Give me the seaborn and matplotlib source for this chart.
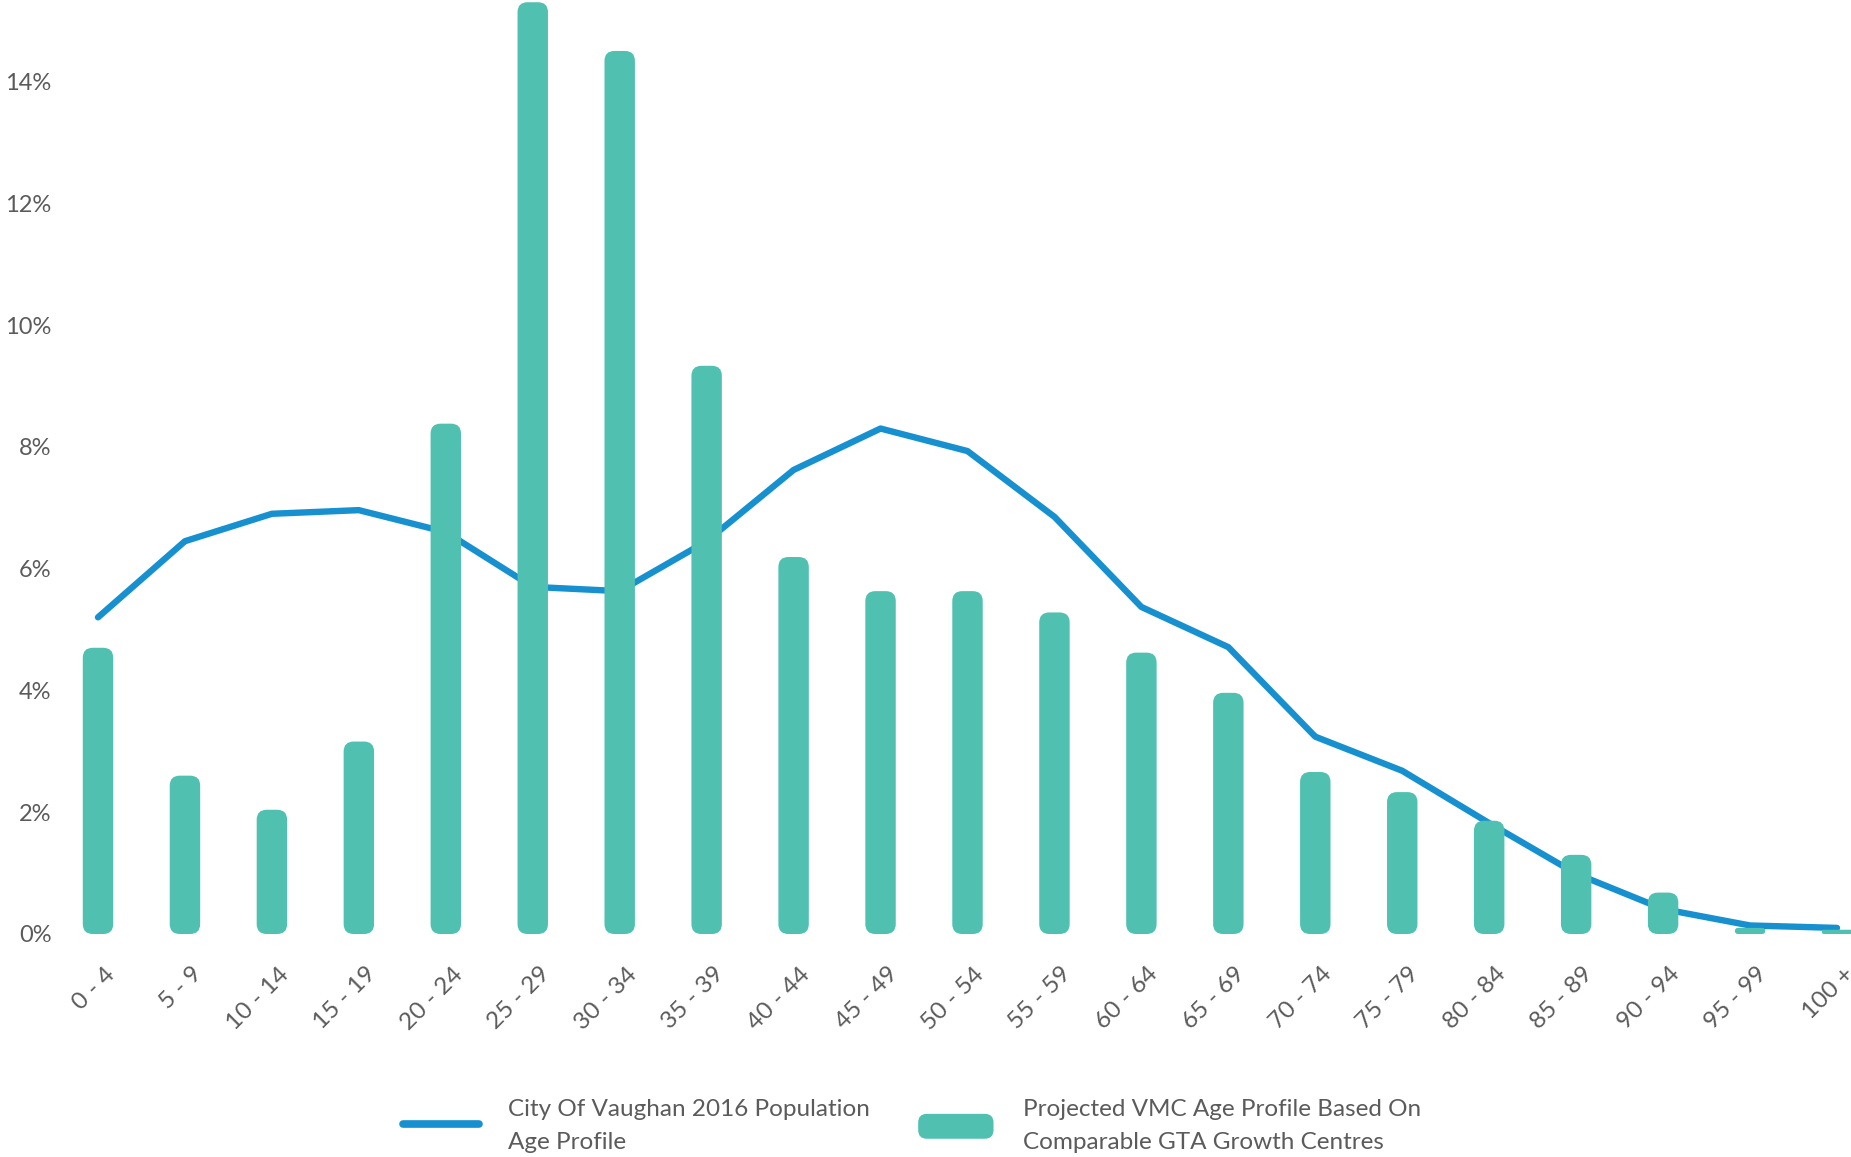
import matplotlib
matplotlib.use("Agg")
import matplotlib.pyplot as plt
import matplotlib.transforms as mtransforms
import seaborn as sns
from matplotlib.patches import FancyBboxPatch, Patch
from matplotlib.lines import Line2D
from matplotlib.legend_handler import HandlerPatch

# ---- data -------------------------------------------------------------
age_groups = ["0 - 4", "5 - 9", "10 - 14", "15 - 19", "20 - 24", "25 - 29",
              "30 - 34", "35 - 39", "40 - 44", "45 - 49", "50 - 54", "55 - 59",
              "60 - 64", "65 - 69", "70 - 74", "75 - 79", "80 - 84", "85 - 89",
              "90 - 94", "95 - 99", "100 +"]

# City of Vaughan 2016 population share by age group (%)
vaughan_2016 = [5.2, 6.45, 6.9, 6.96, 6.6, 5.7, 5.63, 6.45, 7.62, 8.3, 7.93,
                6.85, 5.37, 4.71, 3.24, 2.68, 1.82, 0.99, 0.41, 0.14, 0.1]

# Projected VMC age profile (%)
vmc_projected = [4.7, 2.6, 2.04, 3.16, 8.38, 15.3, 14.5, 9.33, 6.19, 5.63,
                 5.63, 5.28, 4.62, 3.96, 2.66, 2.33, 1.86, 1.30, 0.68, 0.1, 0.07]

y_ticks = [0, 2, 4, 6, 8, 10, 12, 14]

line_label = "City Of Vaughan 2016 Population\nAge Profile"
bar_label = "Projected VMC Age Profile Based On\nComparable GTA Growth Centres"

# ---- style ------------------------------------------------------------
TEAL = "#50C1B0"
BLUE = "#1790CF"
GREY = "#5B5B5B"

sns.set_theme(style="white")
plt.rcParams["font.family"] = ["Lato", "DejaVu Sans"]
plt.rcParams["text.color"] = GREY
plt.rcParams["xtick.color"] = GREY
plt.rcParams["ytick.color"] = GREY

W, H = 1851, 1157
fig = plt.figure(figsize=(W / 100, H / 100), dpi=100)
fig.patch.set_facecolor("white")

# layout in pixels
ax_left_px = 60
first_cat_px = 98          # centre of first category
cat_step_px = 86.95        # distance between categories
zero_from_top_px = 934     # y pixel (from top) of 0 %
pct_px = 60.9              # pixels per 1 %
y_bottom = -0.25

y_top = zero_from_top_px / pct_px
ax_bottom_px = (H - zero_from_top_px) + y_bottom * pct_px
ax = fig.add_axes([ax_left_px / W, ax_bottom_px / H,
                   1 - ax_left_px / W, 1 - ax_bottom_px / H])

# bars, then rounded caps
sns.barplot(x=age_groups, y=vmc_projected, color=TEAL, saturation=1,
            width=0.35, ax=ax, zorder=3)

# population line, drawn beneath the bars
sns.lineplot(x=age_groups, y=vaughan_2016, sort=False, color=BLUE,
             linewidth=4.6, ax=ax, zorder=2, legend=False,
             solid_capstyle="round", solid_joinstyle="round")

x_left = -(first_cat_px - ax_left_px) / cat_step_px
x_right = x_left + (W - ax_left_px) / cat_step_px
ax.set_xlim(x_left, x_right)
ax.set_ylim(y_bottom, y_top)

# swap the plain rectangles for rounded ones
aspect = cat_step_px / pct_px
corner_x = 10 / cat_step_px
for bar in list(ax.patches):
    bx, by = bar.get_x(), bar.get_y()
    bw, bh = bar.get_width(), bar.get_height()
    bar.remove()
    r = min(corner_x, bh / 2 / aspect)
    ax.add_patch(FancyBboxPatch((bx, by), bw, bh,
                                boxstyle=f"round,pad=0,rounding_size={r}",
                                mutation_aspect=aspect, facecolor=TEAL,
                                edgecolor="none", zorder=3, clip_on=False))

# axes cosmetics
for s in ax.spines.values():
    s.set_visible(False)
ax.grid(False)
ax.set_xlabel("")
ax.set_ylabel("")
ax.set_yticks(y_ticks)
ax.set_yticklabels([f"{v}%" for v in y_ticks], fontsize=17)
ax.set_xticks(range(len(age_groups)))
ax.set_xticklabels(age_groups, fontsize=17.5, rotation=45, ha="right",
                   va="top", rotation_mode="anchor")
ax.tick_params(axis="both", length=0)
ax.tick_params(axis="y", pad=6)
ax.tick_params(axis="x", pad=8)

# nudge the slanted category labels a little right and down
shift = mtransforms.ScaledTranslation(0.06, -0.03, fig.dpi_scale_trans)
for lab in ax.get_xticklabels():
    lab.set_transform(lab.get_transform() + shift)


def rounded_handle(legend, orig_handle, xdescent, ydescent, width, height, fontsize):
    return FancyBboxPatch((-xdescent, -ydescent), width, height,
                          boxstyle=f"round,pad=0,rounding_size={height * 0.35}")


handles = [Line2D([], [], color=BLUE, linewidth=5.5, solid_capstyle="round"),
           Patch(facecolor=TEAL, edgecolor="none")]
leg = fig.legend(handles, [line_label, bar_label], loc="center",
                 bbox_to_anchor=(912 / W, (H - 1126) / H), ncol=2,
                 frameon=False, fontsize=17.5, handlelength=3.1,
                 handleheight=1.2, handletextpad=1.2, columnspacing=2.0,
                 borderpad=0,
                 handler_map={Patch: HandlerPatch(patch_func=rounded_handle)})
for t in leg.get_texts():
    t.set_linespacing(1.65)
    t.set_color(GREY)

fig.savefig("out.png", dpi=100, facecolor="white")
